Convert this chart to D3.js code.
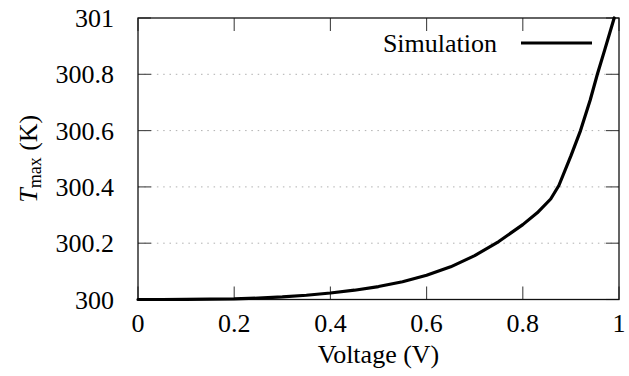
<!DOCTYPE html>
<html>
<head>
<meta charset="utf-8">
<script src="https://cdn.jsdelivr.net/npm/d3@7"></script>
<style>
  text { font-family: "Liberation Serif" !important; }
</style>
</head>
<body style="margin:0">
<svg id="chart" width="629" height="376" font-family="Liberation Serif" style="display:block;background:#fff"></svg>
<script>
// Simulated peak temperature versus applied voltage
const voltage = [0, 0.05, 0.1, 0.15, 0.2, 0.25, 0.3, 0.35, 0.4, 0.45, 0.5, 0.55, 0.6, 0.65, 0.7, 0.75, 0.8, 0.83, 0.858, 0.875, 0.9, 0.92, 0.94, 0.955, 0.97, 0.99];
const tmax    = [300.000, 300.000, 300.0005, 300.001, 300.002, 300.005, 300.009, 300.015, 300.023, 300.033, 300.046, 300.063, 300.086, 300.116, 300.156, 300.206, 300.266, 300.308, 300.357, 300.405, 300.510, 300.600, 300.708, 300.800, 300.885, 301.000];
const xTicks = [0, 0.2, 0.4, 0.6, 0.8, 1];
const yTicks = [300, 300.2, 300.4, 300.6, 300.8, 301];
const gridTicks = [300.2, 300.4, 300.6, 300.8];
const seriesName = "Simulation";

const svg = d3.select("#chart");
const plotL = 138, plotR = 619, plotT = 18, plotB = 299.5;
const x = d3.scaleLinear().domain([0, 1]).range([plotL, plotR]);
const y = d3.scaleLinear().domain([300, 301]).range([plotB, plotT]);
const fontSize = 26;
const tickLen = 13;

// every label uses the same serif face
function label(sel) {
  return sel.style("font-family", '"Liberation Serif"').attr("font-size", fontSize);
}

// dotted horizontal grid
svg.append("g").selectAll("line").data(gridTicks).join("line")
  .attr("x1", plotL).attr("x2", plotR)
  .attr("y1", d => y(d)).attr("y2", d => y(d))
  .attr("stroke", "#b0b0b0").attr("stroke-width", 1)
  .attr("stroke-dasharray", "1.5,4.8");

// tick marks on all four sides, pointing inwards
const ticks = svg.append("g").attr("stroke", "#444").attr("stroke-width", 1.1);
ticks.selectAll(".xb").data(xTicks).join("line")
  .attr("x1", d => x(d)).attr("x2", d => x(d))
  .attr("y1", plotB).attr("y2", plotB - tickLen);
ticks.selectAll(".xt").data(xTicks).join("line")
  .attr("x1", d => x(d)).attr("x2", d => x(d))
  .attr("y1", plotT).attr("y2", plotT + tickLen);
ticks.selectAll(".yl").data(yTicks).join("line")
  .attr("x1", plotL).attr("x2", plotL + tickLen)
  .attr("y1", d => y(d)).attr("y2", d => y(d));
ticks.selectAll(".yr").data(yTicks).join("line")
  .attr("x1", plotR).attr("x2", plotR - tickLen)
  .attr("y1", d => y(d)).attr("y2", d => y(d));

// frame
svg.append("rect")
  .attr("x", plotL).attr("y", plotT)
  .attr("width", plotR - plotL).attr("height", plotB - plotT)
  .attr("fill", "none").attr("stroke", "#111").attr("stroke-width", 1.3);

// tick labels
svg.append("g").selectAll("text").data(xTicks).join("text")
  .call(label)
  .attr("x", d => x(d)).attr("y", 332)
  .attr("text-anchor", "middle")
  .text(d => d3.format("~g")(d));
svg.append("g").selectAll("text").data(yTicks).join("text")
  .call(label)
  .attr("x", 114).attr("y", d => y(d) + 9)
  .attr("text-anchor", "end")
  .text(d => d3.format("~g")(d));

// axis titles
svg.append("text")
  .call(label)
  .attr("x", (plotL + plotR) / 2).attr("y", 363)
  .attr("text-anchor", "middle")
  .text("Voltage (V)");

const yTitle = svg.append("text")
  .call(label)
  .attr("transform", `translate(37, ${(plotT + plotB) / 2}) rotate(-90)`)
  .attr("text-anchor", "middle");
yTitle.append("tspan").attr("font-style", "italic").text("T");
yTitle.append("tspan").attr("font-size", 18).attr("dy", 4).text("max");
yTitle.append("tspan").attr("dy", -4).text("\u00a0(K)");

// simulation curve
const pts = voltage.map((v, i) => [v, tmax[i]]);
svg.append("path")
  .datum(pts)
  .attr("fill", "none").attr("stroke", "#000").attr("stroke-width", 3.2)
  .attr("stroke-linejoin", "round").attr("stroke-linecap", "round")
  .attr("d", d3.line().x(d => x(d[0])).y(d => y(d[1])));

// legend
svg.append("text")
  .call(label)
  .attr("x", 497).attr("y", 52)
  .attr("text-anchor", "end")
  .text(seriesName);
svg.append("line")
  .attr("x1", 521).attr("x2", 592).attr("y1", 43).attr("y2", 43)
  .attr("stroke", "#000").attr("stroke-width", 3.2);
</script>
</body>
</html>
